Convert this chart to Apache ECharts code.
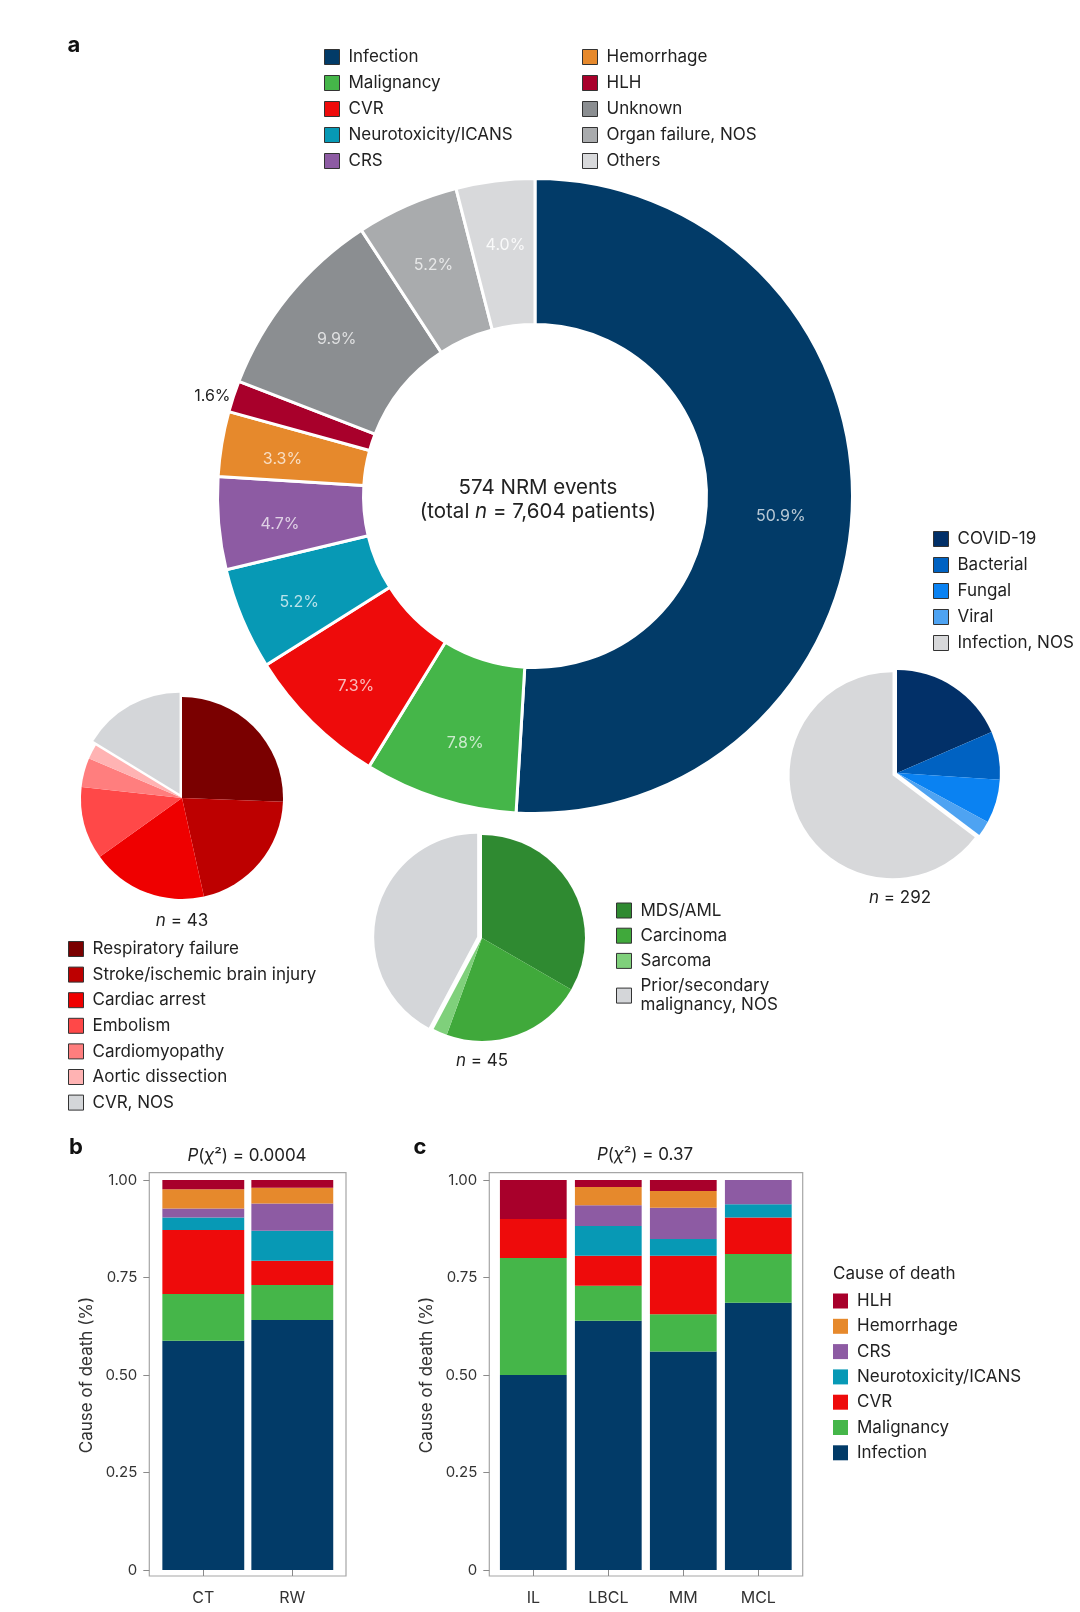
<!DOCTYPE html>
<html>
<head>
<meta charset="utf-8">
<script src="https://cdn.jsdelivr.net/npm/echarts@6/dist/echarts.min.js"></script>
<style>html,body{margin:0;padding:0;background:#fff}#chart{width:1080px;height:1612px}</style>
</head>
<body>
<div id="chart"></div>
<script>
const FONT = 'Inter, "Noto Sans", sans-serif';
const TXT = '#222';

// ---- Panel a: main donut (% of 574 NRM events) ----
const causeNames = ['Infection','Malignancy','CVR','Neurotoxicity/ICANS','CRS','Hemorrhage','HLH','Unknown','Organ failure, NOS','Others'];
const causePct = [50.9, 7.8, 7.3, 5.2, 4.7, 3.3, 1.6, 9.9, 5.2, 4.0];
const causeColors = ['#023b68','#45b649','#ee0b0b','#0799b5','#8d5ba3','#e6892c','#a8002b','#8b8e91','#a9abad','#d8d9db'];
const legendLeftCol = ['Infection','Malignancy','CVR','Neurotoxicity/ICANS','CRS'];
const legendRightCol = ['Hemorrhage','HLH','Unknown','Organ failure, NOS','Others'];

// CVR breakdown (n = 43)
const cvrNames = ['Respiratory failure','Stroke/ischemic brain injury','Cardiac arrest','Embolism','Cardiomyopathy','Aortic dissection','CVR, NOS'];
const cvrCounts = [11, 9, 8, 5, 2, 1, 7];
const cvrColors = ['#7a0000','#bd0000','#ef0000','#ff4848','#ff7e7e','#ffb3b3','#d4d6d9'];

// Malignancy breakdown (n = 45)
const malNames = ['MDS/AML','Carcinoma','Sarcoma','Prior/secondary malignancy, NOS'];
const malCounts = [15, 10, 1, 19];
const malColors = ['#2f8a31','#40a93b','#7fd07b','#d4d6d9'];

// Infection breakdown (n = 292)
const infNames = ['COVID-19','Bacterial','Fungal','Viral','Infection, NOS'];
const infCounts = [54, 22, 20, 7, 189];
const infColors = ['#023068','#0062c2','#0a82f2','#4ea3f2','#d7d8da'];

// ---- Panels b and c: stacked proportions ----
const barCauses = ['Infection','Malignancy','CVR','Neurotoxicity/ICANS','CRS','Hemorrhage','HLH'];
const barLegendOrder = ['HLH','Hemorrhage','CRS','Neurotoxicity/ICANS','CVR','Malignancy','Infection'];

const bCategories = ['CT','RW'];
const bInfection   = [0.588, 0.641];
const bMalignancy  = [0.120, 0.090];
const bCVR         = [0.164, 0.062];
const bNeuro       = [0.032, 0.077];
const bCRS         = [0.023, 0.070];
const bHemorrhage  = [0.049, 0.040];
const bHLH         = [0.024, 0.020];

const cCategories = ['IL','LBCL','MM','MCL'];
const cInfection   = [0.500, 0.639, 0.560, 0.685];
const cMalignancy  = [0.300, 0.090, 0.096, 0.125];
const cCVR         = [0.100, 0.077, 0.150, 0.094];
const cNeuro       = [0.000, 0.076, 0.043, 0.034];
const cCRS         = [0.000, 0.053, 0.080, 0.062];
const cHemorrhage  = [0.000, 0.047, 0.043, 0.000];
const cHLH         = [0.100, 0.018, 0.028, 0.000];

const yTickValues = [0, 0.25, 0.5, 0.75, 1];
const yTickLabels = ['0', '0.25', '0.50', '0.75', '1.00'];

// ------------------------------------------------------------
const colorOf = n => causeColors[causeNames.indexOf(n)];
const bData = [bInfection, bMalignancy, bCVR, bNeuro, bCRS, bHemorrhage, bHLH];
const cData = [cInfection, cMalignancy, cCVR, cNeuro, cCRS, cHemorrhage, cHLH];

function legendCfg(data, left, top, extra) {
  return Object.assign({
    orient: 'vertical', left: left, top: top, padding: 0,
    icon: 'rect', itemWidth: 15, itemHeight: 15, itemGap: 6,
    selectedMode: false, data: data,
    itemStyle: { borderColor: '#333', borderWidth: 1 },
    textStyle: { fontFamily: FONT, fontSize: 17, lineHeight: 20, color: TXT, padding: [0, 0, 0, 4] }
  }, extra || {});
}

function subPie(names, counts, colors, center, r) {
  return {
    type: 'pie', center: center, radius: r, startAngle: 90, clockwise: true,
    selectedMode: 'single', selectedOffset: 5, silent: true,
    label: { show: false }, labelLine: { show: false },
    itemStyle: { borderWidth: 0 },
    data: names.map((n, i) => ({
      name: n, value: counts[i], itemStyle: { color: colors[i] },
      selected: i === names.length - 1
    }))
  };
}

const DONUT_C = [535, 496];
const series = [];
// ring (only the small HLH slice carries an outside label)
series.push({
  name: 'NRM', type: 'pie', center: DONUT_C, radius: [171.5, 317.5],
  startAngle: 90, clockwise: true, silent: true, avoidLabelOverlap: false,
  itemStyle: { borderColor: '#fff', borderWidth: 3 },
  label: { show: false },
  data: causeNames.map((n, i) => {
    const d = { name: n, value: causePct[i], itemStyle: { color: causeColors[i] } };
    if (n === 'HLH') {
      d.label = { show: true, position: 'outside', color: TXT, fontSize: 16, fontFamily: FONT,
        formatter: p => p.value.toFixed(1) + '%', offset: [2, 0] };
      d.labelLine = { show: false, length: 0, length2: 0 };
    }
    return d;
  })
});
// transparent copy of the ring that only carries the inner percentage labels
series.push({
  name: 'NRM labels', type: 'pie', center: DONUT_C, radius: [195, 317],
  startAngle: 90, clockwise: true, silent: true, avoidLabelOverlap: false,
  itemStyle: { color: 'rgba(0,0,0,0)' },
  label: {
    show: true, position: 'inside', fontFamily: FONT, fontSize: 16,
    color: 'rgba(255,255,255,0.72)', offset: [3, 6],
    formatter: p => p.value.toFixed(1) + '%'
  },
  labelLine: { show: false },
  data: causeNames.map((n, i) => {
    const d = { name: n, value: causePct[i] };
    if (n === 'HLH') d.label = { show: false };
    if (n === 'Infection') d.label = { offset: [-13, 12] };
    if (n === 'Malignancy') d.label = { offset: [8, 0] };
    if (n === 'Others') d.label = { color: 'rgba(255,255,255,0.85)' };
    return d;
  })
});
series.push(subPie(cvrNames, cvrCounts, cvrColors, [182, 798], 101));
series.push(subPie(malNames, malCounts, malColors, [482, 938], 103));
series.push(subPie(infNames, infCounts, infColors, [897, 773], 103));

barCauses.forEach((n, i) => {
  series.push({ name: n, type: 'bar', stack: 'b', xAxisIndex: 0, yAxisIndex: 0,
    barCategoryGap: '8%', silent: true, itemStyle: { color: colorOf(n) }, data: bData[i] });
});
barCauses.forEach((n, i) => {
  series.push({ name: n, type: 'bar', stack: 'c', xAxisIndex: 1, yAxisIndex: 1,
    barCategoryGap: '11%', silent: true, itemStyle: { color: colorOf(n) }, data: cData[i] });
});

function xAxisCfg(idx, cats) {
  return {
    type: 'category', gridIndex: idx, data: cats, offset: 6,
    axisLine: { show: false },
    axisTick: { show: true, alignWithLabel: true, length: 6, lineStyle: { color: '#8a8a8a' } },
    axisLabel: { fontFamily: FONT, fontSize: 16, color: '#333', margin: 14 }
  };
}
function yAxisCfg(idx, off) {
  return {
    type: 'value', gridIndex: idx, min: 0, max: 1, interval: 0.25, offset: off,
    splitLine: { show: false }, axisLine: { show: false },
    axisTick: { show: true, length: 6, lineStyle: { color: '#8a8a8a' } },
    axisLabel: { fontFamily: FONT, fontSize: 15, color: '#333', margin: 12,
      formatter: v => yTickLabels[yTickValues.indexOf(v)] },
    name: 'Cause of death (%)', nameLocation: 'middle', nameGap: 54,
    nameTextStyle: { fontFamily: FONT, fontSize: 17, color: '#333' }
  };
}

const richI = { i: { fontStyle: 'italic', fontFamily: FONT, fontSize: 17, fill: TXT } };
function txt(x, y, text, size, extra) {
  return { type: 'text', x: x, y: y, silent: true,
    style: Object.assign({ text: text, fill: TXT, fontFamily: FONT, fontSize: size,
      align: 'center', verticalAlign: 'middle' }, extra || {}) };
}

const graphics = [
  txt(74, 45, 'a', 22, { fontWeight: 'bold', fill: '#111' }),
  txt(76, 1147, 'b', 22, { fontWeight: 'bold', fill: '#111' }),
  txt(420, 1147, 'c', 22, { fontWeight: 'bold', fill: '#111' }),
  txt(538, 488, '574 NRM events', 20.5),
  txt(538, 512, '(total {i|n} = 7,604 patients)', 20.5,
    { rich: { i: { fontStyle: 'italic', fontFamily: FONT, fontSize: 20.5, fill: TXT } } }),
  txt(182, 921, '{i|n} = 43', 17, { rich: richI }),
  txt(482, 1061, '{i|n} = 45', 17, { rich: richI }),
  txt(900, 898, '{i|n} = 292', 17, { rich: richI }),
  txt(247, 1156, '{i|P}({i|χ}²) = 0.0004', 17, { rich: richI }),
  txt(645, 1155, '{i|P}({i|χ}²) = 0.37', 17, { rich: richI }),
  txt(833, 1274, 'Cause of death', 17, { align: 'left' }),
  { type: 'rect', silent: true, shape: { x: 149.3, y: 1172.7, width: 196.7, height: 403.3 },
    style: { fill: 'none', stroke: '#a6a6a6', lineWidth: 1.2 } },
  { type: 'rect', silent: true, shape: { x: 489.3, y: 1172.7, width: 313.4, height: 403.3 },
    style: { fill: 'none', stroke: '#a6a6a6', lineWidth: 1.2 } }
];

const option = {
  backgroundColor: '#fff',
  animation: false,
  textStyle: { fontFamily: FONT },
  legend: [
    legendCfg(legendLeftCol, 324, 47),
    legendCfg(legendRightCol, 582, 47),
    legendCfg(infNames, 933, 529),
    legendCfg(malNames, 616, 901, {
      itemGap: 6.2,
      textStyle: { fontFamily: FONT, fontSize: 17, lineHeight: 19, color: TXT, padding: [0, 0, 0, 4] },
      formatter: n => n === 'Prior/secondary malignancy, NOS' ? 'Prior/secondary\nmalignancy, NOS' : n
    }),
    legendCfg(cvrNames, 68, 939, { itemGap: 5.6 }),
    legendCfg(barLegendOrder, 833, 1291, { itemGap: 5.3, itemStyle: { borderWidth: 0 } })
  ],
  grid: [
    { left: 158.8, top: 1180, width: 178, height: 390 },
    { left: 495.8, top: 1180, width: 300, height: 390 }
  ],
  xAxis: [xAxisCfg(0, bCategories), xAxisCfg(1, cCategories)],
  yAxis: [yAxisCfg(0, 9.5), yAxisCfg(1, 6.5)],
  series: series,
  graphic: { elements: graphics }
};

const chart = echarts.init(document.getElementById('chart'), null, { renderer: 'canvas', width: 1080, height: 1612 });
chart.setOption(option);
</script>
</body>
</html>
